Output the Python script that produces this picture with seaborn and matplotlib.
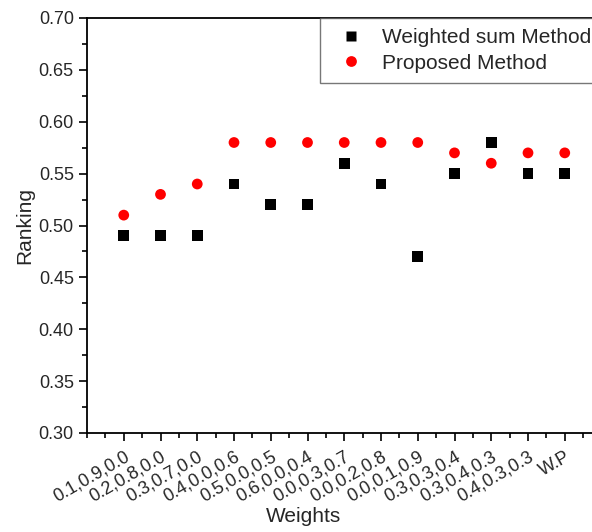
import seaborn as sns
import matplotlib.pyplot as plt
import pandas as pd
from matplotlib.ticker import MultipleLocator

weights = ["0.1,0.9,0.0", "0.2,0.8,0.0", "0.3,0.7,0.0", "0.4,0.0,0.6",
           "0.5,0.0,0.5", "0.6,0.0,0.4", "0.0,0.3,0.7", "0.0,0.2,0.8",
           "0.0,0.1,0.9", "0.3,0.3,0.4", "0.3,0.4,0.3", "0.4,0.3,0.3", "W.P"]
weighted_sum = [0.49, 0.49, 0.49, 0.54, 0.52, 0.52, 0.56, 0.54, 0.47, 0.55, 0.58, 0.55, 0.55]
proposed = [0.51, 0.53, 0.54, 0.58, 0.58, 0.58, 0.58, 0.58, 0.58, 0.57, 0.56, 0.57, 0.57]

pos = list(range(1, len(weights) + 1))
df = pd.DataFrame({
    "pos": pos * 2,
    "Ranking": weighted_sum + proposed,
    "Method": ["Weighted sum Method"] * len(pos) + ["Proposed Method"] * len(pos),
})

sns.set_style("ticks")
plt.rcParams['font.family'] = ['Liberation Sans', 'DejaVu Sans']

fig = plt.figure(figsize=(5.92, 5.32), dpi=100)
ax = fig.add_axes([87 / 592, 1 - 433 / 532, 514.5 / 592, 415 / 532])

sns.scatterplot(data=df, x="pos", y="Ranking", hue="Method", style="Method",
                palette={"Weighted sum Method": "black", "Proposed Method": "red"},
                markers={"Weighted sum Method": "s", "Proposed Method": "o"},
                s=60, edgecolor="none", ax=ax)

ax.set_xlim(0, 14)
ax.set_ylim(0.30, 0.70)
ax.set_xticks(pos)
ax.set_xticklabels(weights, rotation=30, ha="right", rotation_mode="anchor")
ax.xaxis.set_minor_locator(MultipleLocator(0.5))
ax.yaxis.set_major_locator(MultipleLocator(0.05))
ax.yaxis.set_minor_locator(MultipleLocator(0.025))
ax.yaxis.set_major_formatter(plt.FormatStrFormatter("%.2f"))
ax.tick_params(which="major", direction="out", length=6, width=1.2, labelsize=13, color="black")
ax.tick_params(which="minor", direction="out", length=3.5, width=1.2, color="black")
ax.tick_params(axis="x", pad=5)
for sp in ax.spines.values():
    sp.set_visible(True)
    sp.set_linewidth(1.3)
    sp.set_color("black")

ax.set_xlabel("Weights", fontsize=15)
ax.xaxis.set_label_coords(0.42, -0.178)
ax.set_ylabel("Ranking", fontsize=15, labelpad=3)

leg = ax.legend(loc="upper left", bbox_to_anchor=(233 / 514.5, 1.0), fontsize=15,
                frameon=True, fancybox=False, borderaxespad=0, handletextpad=0.5,
                borderpad=0.5, labelspacing=0.3, markerscale=1.0)
leg.get_frame().set_edgecolor("#555555")
leg.get_frame().set_linewidth(1.0)

fig.savefig("out.png", dpi=100)
